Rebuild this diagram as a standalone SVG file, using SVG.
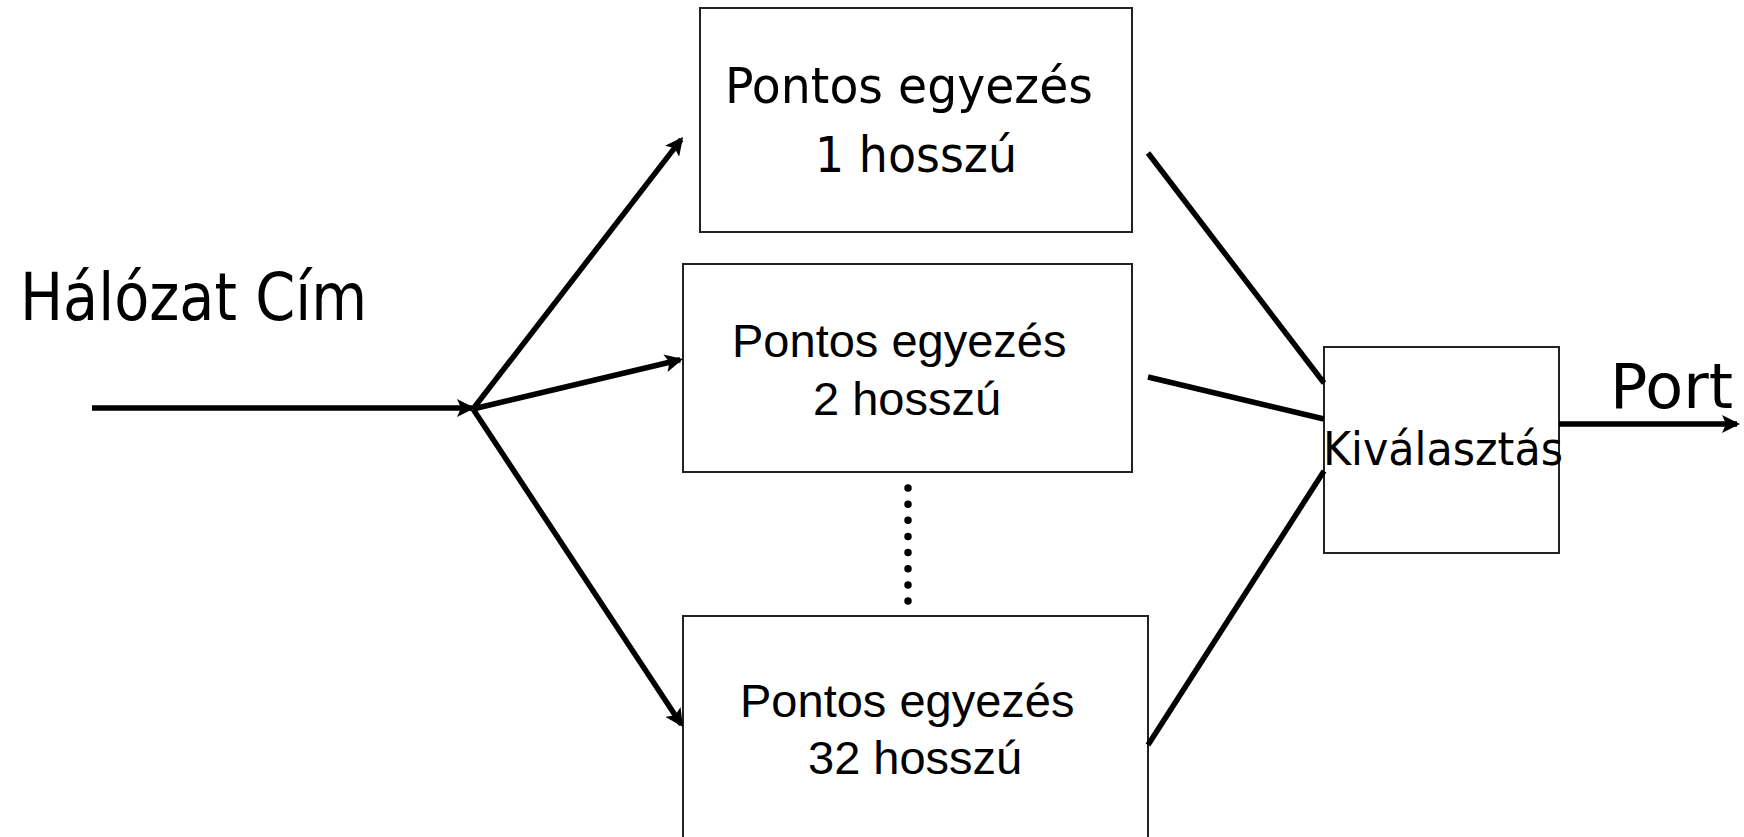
<svg xmlns="http://www.w3.org/2000/svg" width="1744" height="837" viewBox="0 0 1744 837">
<style>
.box{fill:#fff;stroke:#222;stroke-width:2}
.comic{font-family:"DejaVu Sans",sans-serif;fill:#000}
.arial{font-family:"Liberation Sans",Arial,sans-serif;font-size:47px;fill:#000}
.conn{stroke:#000;stroke-width:5.5;fill:none}
</style>
<defs>
<marker id="arr" markerUnits="userSpaceOnUse" markerWidth="18" markerHeight="18" refX="15" refY="9" orient="auto">
<path d="M0,0 L18,9 L0,18 L4,9 z" fill="#000"/>
</marker>
</defs>
<rect width="1744" height="837" fill="#fff"/>
<g id="input-label">
<text class="comic" x="20" y="320" font-size="66" textLength="347" lengthAdjust="spacingAndGlyphs">Hálózat Cím</text>
</g>
<g id="box1">
<rect class="box" x="700" y="8" width="432" height="224"/>
<text class="comic" x="725" y="103" font-size="50" textLength="368" lengthAdjust="spacingAndGlyphs">Pontos egyezés</text>
<text class="comic" x="815" y="172" font-size="50" textLength="202" lengthAdjust="spacingAndGlyphs">1 hosszú</text>
</g>
<g id="box2">
<rect class="box" x="683" y="264" width="449" height="208"/>
<text class="arial" x="732" y="357">Pontos egyezés</text>
<text class="arial" x="813" y="415">2 hosszú</text>
</g>
<g id="box3">
<rect class="box" x="683" y="616" width="465" height="240"/>
<text class="arial" x="740" y="717">Pontos egyezés</text>
<text class="arial" x="808" y="774">32 hosszú</text>
</g>
<g id="dots">
<line x1="908" y1="488" x2="908" y2="602" stroke="#000" stroke-width="7.5" stroke-linecap="round" stroke-dasharray="0.01 16.14"/>
</g>
<g id="selector">
<rect class="box" x="1324" y="347" width="235" height="206"/>
<text class="comic" x="1323" y="465" font-size="46" textLength="240" lengthAdjust="spacingAndGlyphs">Kiválasztás</text>
</g>
<g id="output-label">
<text class="comic" x="1610" y="408" font-size="63" textLength="123" lengthAdjust="spacingAndGlyphs">Port</text>
</g>
<g id="connectors">
<line class="conn" x1="92" y1="408" x2="472" y2="408" marker-end="url(#arr)"/>
<line class="conn" x1="473" y1="409" x2="681.2" y2="139.4" marker-end="url(#arr)"/>
<line class="conn" x1="473" y1="409" x2="680.1" y2="359.7" marker-end="url(#arr)"/>
<line class="conn" x1="473" y1="409" x2="681.3" y2="724.5" marker-end="url(#arr)"/>
<line class="conn" x1="1148" y1="153" x2="1324" y2="383"/>
<line class="conn" x1="1148" y1="377" x2="1324" y2="419"/>
<line class="conn" x1="1148" y1="745" x2="1324" y2="471"/>
<line class="conn" x1="1559" y1="424" x2="1737" y2="424" marker-end="url(#arr)"/>
</g>
</svg>
